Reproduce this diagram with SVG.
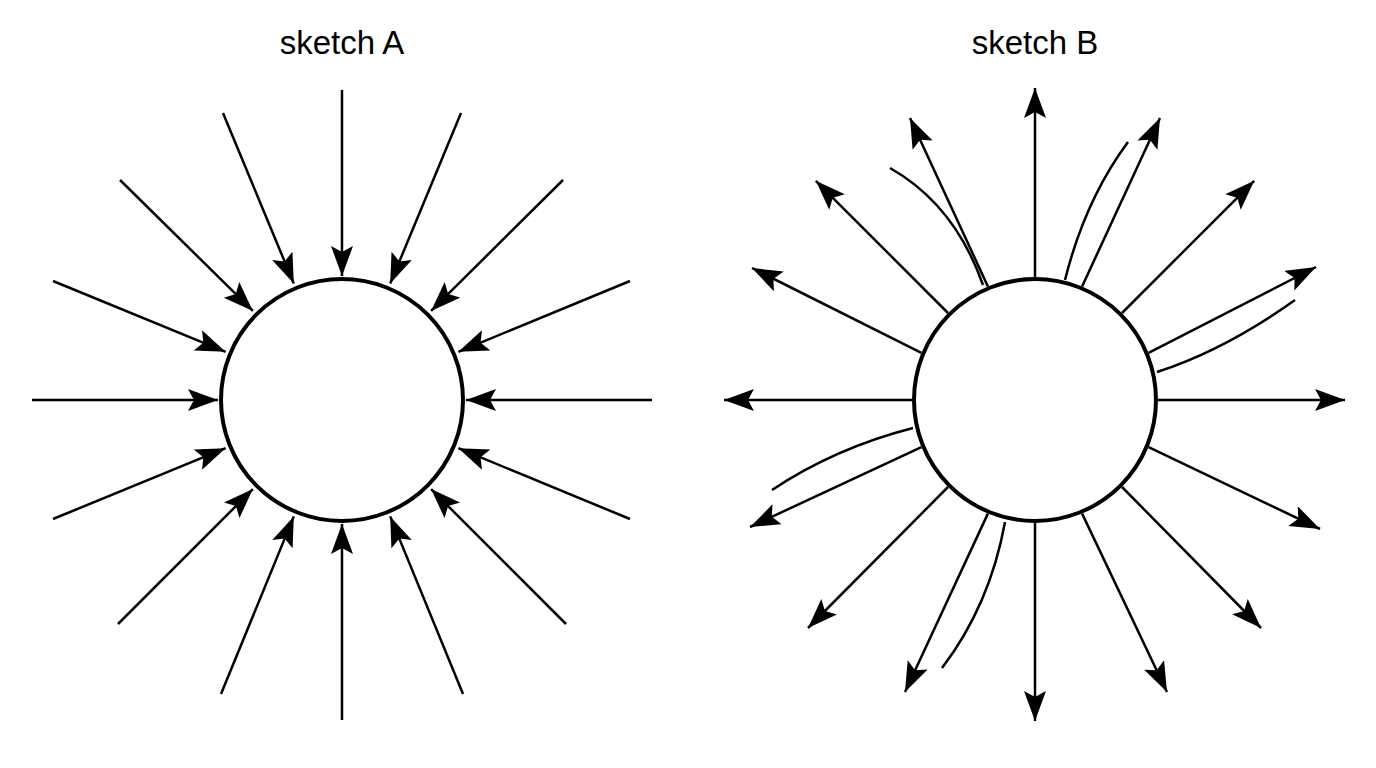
<svg xmlns="http://www.w3.org/2000/svg" width="1376" height="768" viewBox="0 0 1376 768">
<style>
.t{font-family:"Liberation Sans",Arial,sans-serif;font-size:33px;text-anchor:middle;fill:#000}
.c{fill:#fff;stroke:#000;stroke-width:4}
.a line{stroke:#000;stroke-width:2.5;marker-end:url(#ah)}
.k path{fill:none;stroke:#000;stroke-width:2.5}
</style>
<defs><marker id="ah" markerUnits="userSpaceOnUse" markerWidth="32" markerHeight="24" refX="30" refY="11" orient="auto"><path d="M0,0 L30,11 L0,22 L6,11 Z" fill="#000"/></marker></defs>
<rect width="1376" height="768" fill="#fff"/>
<text class="t" x="342" y="54">sketch A</text>
<text class="t" x="1035" y="54">sketch B</text>
<g id="circleA"><circle class="c" cx="342" cy="400" r="121"/></g>
<g id="circleB"><circle class="c" cx="1035" cy="400" r="121"/></g>
<g id="connectors">
<g class="a">
<line x1="652" y1="400" x2="466" y2="400"/>
<line x1="630" y1="281" x2="458.4" y2="351.8"/>
<line x1="563" y1="180" x2="431.1" y2="310.9"/>
<line x1="461" y1="113" x2="390.2" y2="283.6"/>
<line x1="342" y1="90" x2="342" y2="276"/>
<line x1="223" y1="113" x2="293.8" y2="283.6"/>
<line x1="120" y1="180" x2="252.9" y2="310.9"/>
<line x1="53" y1="281" x2="225.6" y2="351.8"/>
<line x1="32" y1="400" x2="218" y2="400"/>
<line x1="53" y1="519" x2="225.6" y2="448.2"/>
<line x1="118" y1="624" x2="252.9" y2="489.1"/>
<line x1="221" y1="694" x2="293.8" y2="516.4"/>
<line x1="342" y1="720" x2="342" y2="524"/>
<line x1="463" y1="694" x2="390.2" y2="516.4"/>
<line x1="566" y1="624" x2="431.1" y2="489.1"/>
<line x1="630" y1="519" x2="458.4" y2="448.2"/>

<line x1="1158" y1="400" x2="1345" y2="400"/>
<line x1="1148.6" y1="352.9" x2="1316" y2="267"/>
<line x1="1122" y1="313" x2="1254.2" y2="180.8"/>
<line x1="1082.1" y1="286.4" x2="1160" y2="118"/>
<line x1="1035" y1="277" x2="1035" y2="88"/>
<line x1="987.9" y1="286.4" x2="910" y2="118"/>
<line x1="948" y1="313" x2="815.8" y2="180.8"/>
<line x1="921.4" y1="352.9" x2="752" y2="268"/>
<line x1="912" y1="400" x2="724" y2="400"/>
<line x1="921.4" y1="447.1" x2="750" y2="527"/>
<line x1="948" y1="487" x2="808" y2="628"/>
<line x1="987.9" y1="513.6" x2="905" y2="692"/>
<line x1="1035" y1="523" x2="1035" y2="721"/>
<line x1="1082.1" y1="513.6" x2="1167" y2="692"/>
<line x1="1122" y1="487" x2="1261" y2="628"/>
<line x1="1148.6" y1="447.1" x2="1320" y2="529"/>
</g>
<g class="k">
<path d="M890,168 Q955,205 983,285"/>
<path d="M1128,142 Q1085,200 1065,280"/>
<path d="M1295,300 Q1225,350 1157,372"/>
<path d="M772,490 Q835,448 913,428"/>
<path d="M942,668 Q990,605 1005,522"/>
</g>
</g>
</svg>
